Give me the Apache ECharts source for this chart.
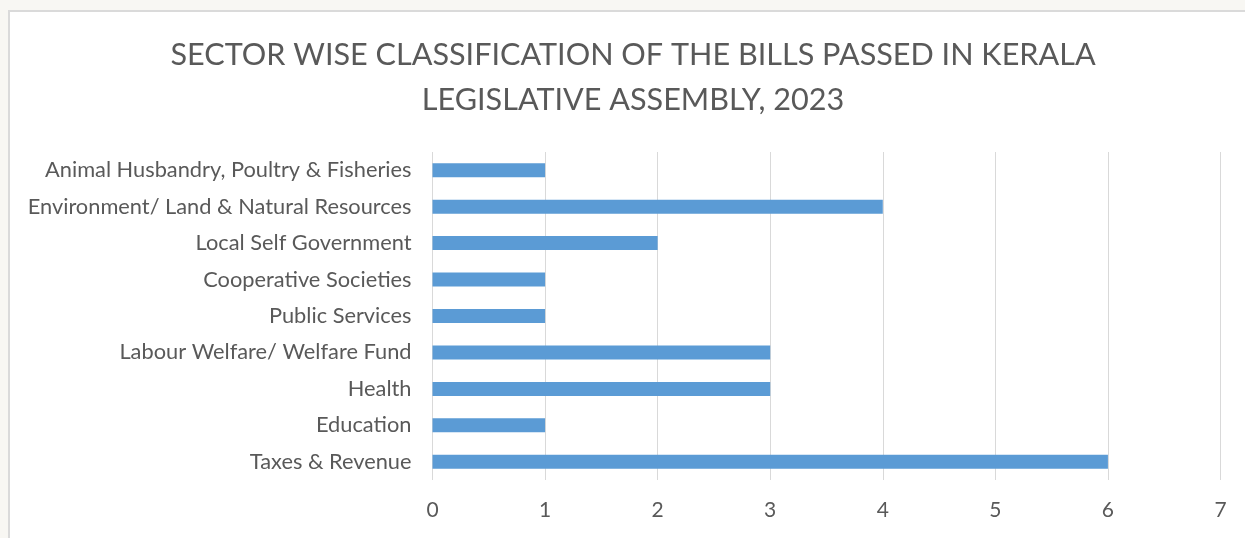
<!DOCTYPE html>
<html>
<head>
<meta charset="utf-8">
<script src="https://cdn.jsdelivr.net/npm/echarts@6/dist/echarts.min.js"></script>
<style>
html,body{margin:0;padding:0;width:1245px;height:538px;overflow:hidden;background:#f8f7f3;}
#frame{position:absolute;left:8px;top:10px;width:1300px;height:600px;background:#fff;border:2px solid #dadada;box-sizing:border-box;}
#chart{position:absolute;left:0;top:0;width:1245px;height:538px;}
</style>
</head>
<body>
<div id="frame"></div>
<div id="chart"></div>
<script>
const titleText = 'SECTOR WISE CLASSIFICATION OF THE BILLS PASSED IN KERALA\nLEGISLATIVE ASSEMBLY, 2023';
const categories = [
  'Taxes & Revenue',
  'Education',
  'Health',
  'Labour Welfare/ Welfare Fund',
  'Public Services',
  'Cooperative Societies',
  'Local Self Government',
  'Environment/ Land & Natural Resources',
  'Animal Husbandry, Poultry & Fisheries'
];
const billCounts = [6, 1, 3, 3, 1, 1, 2, 4, 1];
const xTicks = [0, 1, 2, 3, 4, 5, 6, 7];

const chart = echarts.init(document.getElementById('chart'), null, {renderer: 'canvas'});
chart.setOption({
  backgroundColor: 'transparent',
  animation: false,
  title: {
    text: titleText,
    left: 633,
    textAlign: 'center',
    top: 33,
    padding: 0,
    textStyle: {
      fontFamily: 'Lato',
      fontWeight: 'normal',
      fontSize: 30.6,
      lineHeight: 45,
      color: '#595959'
    }
  },
  grid: {
    left: 432.5,
    right: 24.5,
    top: 152,
    bottom: 58,
    containLabel: false
  },
  xAxis: {
    type: 'value',
    min: xTicks[0],
    max: xTicks[xTicks.length - 1],
    interval: 1,
    axisLine: {show: false},
    axisTick: {show: false},
    splitLine: {show: true, lineStyle: {color: '#d9d9d9', width: 1}},
    axisLabel: {
      margin: 20,
      fontFamily: 'Lato',
      fontSize: 21,
      color: '#595959'
    }
  },
  yAxis: {
    type: 'category',
    data: categories,
    axisLine: {show: false},
    axisTick: {show: false},
    axisLabel: {
      margin: 21,
      fontFamily: 'Lato',
      fontSize: 21.8,
      color: '#595959'
    }
  },
  series: [{
    type: 'bar',
    data: billCounts,
    barWidth: 14,
    itemStyle: {color: '#5b9bd5'}
  }]
});
</script>
</body>
</html>
